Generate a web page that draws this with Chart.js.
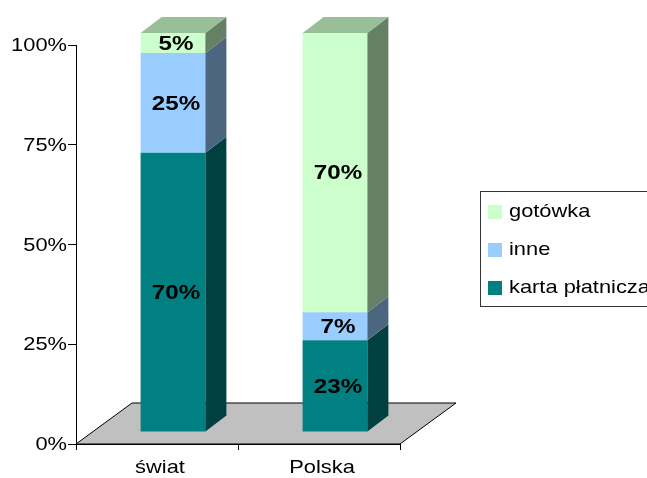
<!DOCTYPE html>
<html>
<head>
<meta charset="utf-8">
<script src="https://cdn.jsdelivr.net/npm/chart.js@4"></script>
<style>
  html, body { margin: 0; padding: 0; background: #fff; }
  canvas { display: block; }
</style>
</head>
<body>
<canvas id="chart" width="647" height="478"></canvas>
<script>
// Data
const categories = ['świat', 'Polska'];
const kartaPlatnicza = [70, 23];
const inne = [25, 7];
const gotowka = [5, 70];
const seriesNames = ['karta płatnicza', 'inne', 'gotówka'];
const yTickValues = [0, 25, 50, 75, 100];

const FONT = '"Liberation Sans", Arial, sans-serif';
const STRETCH = 1.15; // the original text is drawn a bit wide

// front / side / top shades for each series
const shades = [
    { front: '#008080', side: '#004040', top: '#006060' },
    { front: '#99CCFF', side: '#4C6680', top: '#7399BF' },
    { front: '#CCFFCC', side: '#668066', top: '#99BF99' }
];

// 3D look: bars sit a bit back on the floor
const BAR_SHIFT = { x: 16, y: -12 };
const BAR_DEPTH = { x: 21, y: -16 };
const FLOOR_DEPTH = { x: 56, y: -41 };

function wideText(ctx, text, x, y, align, baseline) {
    ctx.save();
    ctx.translate(x, y);
    ctx.scale(STRETCH, 1);
    ctx.textAlign = align;
    ctx.textBaseline = baseline;
    ctx.fillText(text, 0, 0);
    ctx.restore();
}

const threeD = {
    id: 'threeD',
    beforeDatasetsDraw(chart) {
        const ctx = chart.ctx;
        const xs = chart.scales.x;
        const ys = chart.scales.y;
        const y0 = ys.getPixelForValue(0);
        ctx.save();
        ctx.beginPath();
        ctx.moveTo(xs.left, y0);
        ctx.lineTo(xs.left + FLOOR_DEPTH.x, y0 + FLOOR_DEPTH.y);
        ctx.lineTo(xs.right + FLOOR_DEPTH.x, y0 + FLOOR_DEPTH.y);
        ctx.lineTo(xs.right, y0);
        ctx.closePath();
        ctx.fillStyle = '#C0C0C0';
        ctx.fill();
        ctx.strokeStyle = '#000';
        ctx.lineWidth = 1;
        ctx.stroke();
        ctx.translate(BAR_SHIFT.x, BAR_SHIFT.y);
    },
    afterDatasetsDraw(chart) {
        const ctx = chart.ctx;
        const n = chart.data.datasets.length;
        for (let d = 0; d < n; d++) {
            const meta = chart.getDatasetMeta(d);
            meta.data.forEach(function (bar) {
                const p = bar.getProps(['x', 'y', 'base', 'width'], true);
                const right = p.x + p.width / 2;
                const left = p.x - p.width / 2;
                // side face
                ctx.beginPath();
                ctx.moveTo(right, p.base);
                ctx.lineTo(right + BAR_DEPTH.x, p.base + BAR_DEPTH.y);
                ctx.lineTo(right + BAR_DEPTH.x, p.y + BAR_DEPTH.y);
                ctx.lineTo(right, p.y);
                ctx.closePath();
                ctx.fillStyle = shades[d].side;
                ctx.fill();
                // top face on the last segment
                if (d === n - 1) {
                    ctx.beginPath();
                    ctx.moveTo(left, p.y);
                    ctx.lineTo(left + BAR_DEPTH.x, p.y + BAR_DEPTH.y);
                    ctx.lineTo(right + BAR_DEPTH.x, p.y + BAR_DEPTH.y);
                    ctx.lineTo(right, p.y);
                    ctx.closePath();
                    ctx.fillStyle = shades[d].top;
                    ctx.fill();
                }
            });
        }
        // value labels
        ctx.fillStyle = '#000';
        ctx.font = 'bold 21px ' + FONT;
        for (let d = 0; d < n; d++) {
            const ds = chart.data.datasets[d];
            chart.getDatasetMeta(d).data.forEach(function (bar, i) {
                const p = bar.getProps(['x', 'y', 'base'], true);
                wideText(ctx, ds.data[i] + '%', p.x + 3, (p.y + p.base) / 2 + 1, 'center', 'middle');
            });
        }
        ctx.restore();
    },
    afterDraw(chart) {
        const ctx = chart.ctx;
        const xs = chart.scales.x;
        const ys = chart.scales.y;
        ctx.save();
        ctx.fillStyle = '#000';
        ctx.font = '19px ' + FONT;
        // axis labels
        ys.ticks.forEach(function (t) {
            wideText(ctx, t.value + '%', ys.right - 9, ys.getPixelForValue(t.value) + 1, 'right', 'middle');
        });
        chart.data.labels.forEach(function (lab, i) {
            wideText(ctx, lab, xs.getPixelForValue(i) + 3, 473, 'center', 'alphabetic');
        });
        // legend, top entry first
        ctx.strokeStyle = '#333';
        ctx.lineWidth = 1;
        ctx.strokeRect(480.5, 191.5, 220, 115);
        const ds = chart.data.datasets;
        for (let k = 0; k < ds.length; k++) {
            const d = ds.length - 1 - k;
            const cy = 212 + k * 38;
            ctx.fillStyle = shades[d].front;
            ctx.fillRect(488, cy - 7, 14, 14);
            ctx.fillStyle = '#000';
            wideText(ctx, ds[d].label, 509, cy, 'left', 'middle');
        }
        ctx.restore();
    }
};

const datasets = [kartaPlatnicza, inne, gotowka].map(function (values, i) {
    return {
        label: seriesNames[i],
        data: values,
        backgroundColor: shades[i].front,
        borderWidth: 0,
        barPercentage: 0.4,
        categoryPercentage: 1
    };
});

new Chart(document.getElementById('chart'), {
    type: 'bar',
    data: { labels: categories, datasets: datasets },
    plugins: [threeD],
    options: {
        responsive: false,
        animation: false,
        layout: { padding: { top: 45, right: 247, bottom: 0, left: 0 } },
        plugins: { legend: { display: false }, tooltip: { enabled: false } },
        scales: {
            x: {
                stacked: true,
                grid: { drawOnChartArea: false, offset: true, tickLength: 6, color: '#000' },
                border: { color: '#000' },
                ticks: { display: false },
                afterFit: function (s) { s.height = 34; }
            },
            y: {
                stacked: true,
                min: 0,
                max: 100,
                afterBuildTicks: function (s) {
                    s.ticks = yTickValues.map(function (v) { return { value: v }; });
                },
                grid: { drawOnChartArea: false, tickLength: 8, color: '#000' },
                border: { color: '#000' },
                ticks: { display: false },
                afterFit: function (s) { s.width = 76; }
            }
        }
    }
});
</script>
</body>
</html>
